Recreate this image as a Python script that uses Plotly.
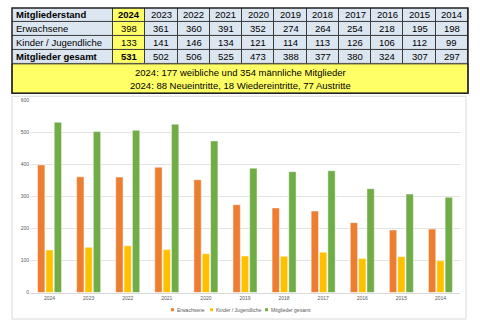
import plotly.graph_objects as go

# ---- data ----
years = ["2024", "2023", "2022", "2021", "2020", "2019", "2018", "2017", "2016", "2015", "2014"]
erwachsene = [398, 361, 360, 391, 352, 274, 264, 254, 218, 195, 198]
kinder = [133, 141, 146, 134, 121, 114, 113, 126, 106, 112, 99]
gesamt = [531, 502, 506, 525, 473, 388, 377, 380, 324, 307, 297]
row_labels = ["Erwachsene", "Kinder / Jugendliche", "Mitglieder gesamt"]
table_title = "Mitgliederstand"
series_names = ["Erwachsene", "Kinder / Jugendliche", "Mitglieder gesamt"]
info_lines = ["2024: 177 weibliche und 354 männliche Mitglieder",
              "2024: 88 Neueintritte, 18 Wiedereintritte, 77 Austritte"]

W, H = 480, 325
FONT = "Liberation Sans, Arial, sans-serif"
ORANGE, YELLOW, GREEN = "#ED7D31", "#FFC000", "#70AD47"
CELL = "#DCE6F1"
HILITE = "#FFFF66"
BORDER = "#3A3A3A"


def px(x):
    return x / W


def py(y):
    return 1 - y / H


fig = go.Figure()

# ---- table as a heatmap grid (columns: label + years, rows: header + 3 series) ----
first_w = 101.0
col_w = 355.0 / len(years)
edges = [0.0, first_w] + [first_w + col_w * (i + 1) for i in range(len(years))]
n_rows = 1 + len(row_labels)
hl = [0] + [1 if i == 0 else 0 for i in range(len(years))]
z = [hl[:] for _ in range(n_rows)]

fig.add_trace(go.Heatmap(
    x=edges, y=list(range(n_rows + 1)), z=z,
    colorscale=[[0, CELL], [1, HILITE]], zmin=0, zmax=1, showscale=False,
    xgap=1, ygap=1, hoverinfo="skip", xaxis="x2", yaxis="y2",
))

table_rows = [[table_title] + years]
series_vals = [erwachsene, kinder, gesamt]
for r, lab in enumerate(row_labels):
    table_rows.append([lab] + [str(v) for v in series_vals[r]])

annotations = []
for r, row in enumerate(table_rows):
    for c, val in enumerate(row):
        bold = (r == 0 and c <= 1) or (r == 3 and c <= 1)
        txt = "<b>%s</b>" % val if bold else val
        if c == 0:
            xx, anchor = edges[0] + 2.0, "left"
        else:
            xx, anchor = (edges[c] + edges[c + 1]) / 2, "center"
        annotations.append(dict(text=txt, xref="x2", yref="y2", x=xx, y=r + 0.5,
                                xanchor=anchor, yanchor="middle", showarrow=False,
                                font=dict(family=FONT, size=9.5, color="#000000")))

# ---- bars ----
for name, vals, col in zip(series_names, series_vals, [ORANGE, YELLOW, GREEN]):
    fig.add_trace(go.Bar(x=years, y=vals, name=name,
                         marker=dict(color=col, line=dict(color="rgba(255,255,255,0.6)", width=0.8)),
                         showlegend=False, hoverinfo="x+y+name"))

shapes = [
    # chart panel
    dict(type="rect", xref="paper", yref="paper", x0=px(12), x1=px(466), y0=py(322), y1=py(95),
         line=dict(color="#D9D9D9", width=1), fillcolor="white", layer="below"),
    # dark backdrop for table grid lines
    dict(type="rect", xref="x2 domain", yref="y2 domain", x0=0, x1=1, y0=0, y1=1,
         line=dict(width=0), fillcolor=BORDER, layer="below"),
    # yellow info block
    dict(type="rect", xref="paper", yref="paper", x0=px(12), x1=px(468), y0=py(92), y1=py(62),
         line=dict(color=BORDER, width=1), fillcolor=HILITE, layer="below"),
    # outer frame of table
    dict(type="rect", xref="paper", yref="paper", x0=px(12), x1=px(468), y0=py(92), y1=py(5),
         line=dict(color="#202020", width=1.5), fillcolor="rgba(0,0,0,0)", layer="above"),
]

for k, line in enumerate(info_lines):
    annotations.append(dict(text=line, xref="paper", yref="paper", x=px(240), y=py(71 + 13 * k),
                            xanchor="center", yanchor="middle", showarrow=False,
                            font=dict(family=FONT, size=9.5, color="#000000")))

# small legend under the chart
leg_x = [171, 210, 265]
for name, col, lx in zip(series_names, [ORANGE, YELLOW, GREEN], leg_x):
    shapes.append(dict(type="rect", xref="paper", yref="paper", x0=px(lx), x1=px(lx + 3),
                       y0=py(314), y1=py(311), line=dict(width=0), fillcolor=col))
    annotations.append(dict(text=name, xref="paper", yref="paper", x=px(lx + 4), y=py(312.5),
                            xanchor="left", yanchor="middle", showarrow=False,
                            font=dict(family=FONT, size=5.0, color="#595959")))

fig.update_layout(
    width=W, height=H,
    margin=dict(l=0, r=0, t=0, b=0),
    paper_bgcolor="white", plot_bgcolor="rgba(0,0,0,0)",
    barmode="group", bargap=0.36, bargroupgap=0.12,
    showlegend=False,
    font=dict(family=FONT),
    shapes=shapes, annotations=annotations,
    xaxis=dict(domain=[px(30), px(460)], type="category", showgrid=False, ticks="",
               showline=True, linecolor="#D9D9D9", linewidth=1,
               tickfont=dict(family=FONT, size=5.0, color="#595959")),
    yaxis=dict(domain=[py(295), py(99)], range=[0, 600], dtick=100, showgrid=True,
               gridcolor="#E3E3E3", gridwidth=1, zeroline=False, showline=False, ticks="",
               tickfont=dict(family=FONT, size=5.0, color="#595959")),
    xaxis2=dict(domain=[px(12), px(468)], range=[edges[0], edges[-1]], visible=False,
                fixedrange=True, anchor="y2"),
    yaxis2=dict(domain=[py(62), py(5)], range=[n_rows, 0], visible=False,
                fixedrange=True, anchor="x2"),
)

fig.write_html("out.html")
